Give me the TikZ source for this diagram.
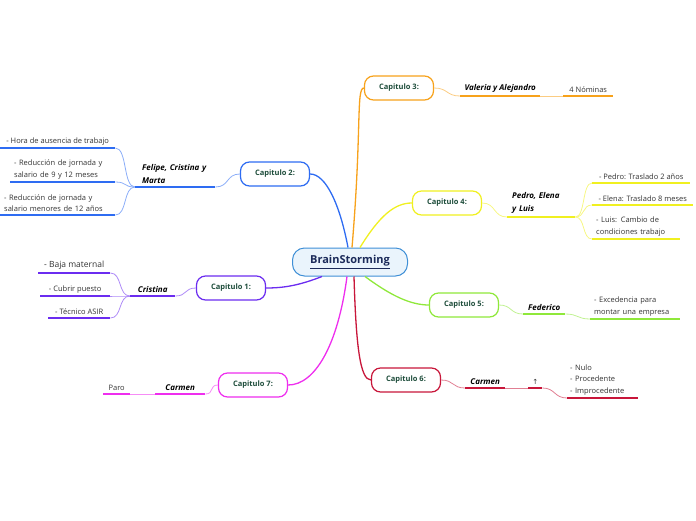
\documentclass[tikz,border=0pt]{standalone}
\usepackage{fontspec}
\setmainfont{Open Sans}
\newfontfamily\symfont{DejaVu Sans}
\usetikzlibrary{positioning,calc}
\definecolor{rootline}{HTML}{3F8FD6}
\definecolor{rootfill}{HTML}{EAF4FC}
\definecolor{roottext}{HTML}{1C2B5A}
\definecolor{chaptext}{HTML}{1E4D3B}
\definecolor{cblue}{HTML}{2E6CF2}
\definecolor{corange}{HTML}{F7A21B}
\definecolor{cyellow}{HTML}{F0F020}
\definecolor{cpurple}{HTML}{6B2CF0}
\definecolor{cgreen}{HTML}{8FE83A}
\definecolor{ccrimson}{HTML}{C8163A}
\definecolor{cmagenta}{HTML}{EE2EEE}

\begin{document}
\begin{tikzpicture}[x=1pt, y=-1pt,
    root/.style={draw=rootline, fill=rootfill, line width=1pt, rounded corners=12pt,
      minimum width=115pt, minimum height=28pt, text=roottext,
      font=\fontsize{11}{13}\selectfont\bfseries},
    chap/.style={draw=#1, fill=white, line width=1.2pt, rounded corners=9pt,
      minimum width=69pt, minimum height=24pt, text=chaptext,
      font=\fontsize{7.5}{9}\selectfont\bfseries},
    topic/.style={anchor=south west, inner xsep=0pt, inner ysep=3pt, align=left,
      font=\fontsize{8}{13}\selectfont\bfseries\itshape},
    leaf/.style={anchor=south west, inner xsep=0pt, inner ysep=3pt, align=left,
      text=black!80, font=\fontsize{7.5}{11.5}\selectfont},
    main/.style={draw=#1, line width=1.3pt},
    link/.style={draw=#1!55, line width=0.8pt},
    under/.style={draw=#1, line width=1.8pt}
  ]
  \useasboundingbox (0,0) rectangle (696,520);

  % centre and chapters
  \node[root] (root) at (350,262) {\underline{BrainStorming}};
  \node[chap=corange] (c3) at (399,88) {Capitulo 3:};
  \node[chap=cblue] (c2) at (275,174) {Capitulo 2:};
  \node[chap=cyellow] (c4) at (447,203) {Capitulo 4:};
  \node[chap=cpurple] (c1) at (231,288) {Capitulo 1:};
  \node[chap=cgreen] (c5) at (464,305) {Capitulo 5:};
  \node[chap=ccrimson] (c6) at (406,380) {Capitulo 6:};
  \node[chap=cmagenta] (c7) at (253,385) {Capitulo 7:};

  \draw[main=corange] ([xshift=2pt]root.north) .. controls (362,130) and (356,88) .. (c3.west);
  \draw[main=cblue] ([xshift=-2pt]root.north) .. controls (340,205) and (326,174) .. (c2.east);
  \draw[main=cyellow] ([xshift=10pt]root.north) .. controls (380,215) and (395,203) .. (c4.west);
  \draw[main=cgreen] ([xshift=15pt]root.south) .. controls (390,295) and (410,305) .. (c5.west);
  \draw[main=ccrimson] ([xshift=4pt]root.south) .. controls (356,345) and (360,380) .. (c6.west);
  \draw[main=cmagenta] ([xshift=-3pt]root.south) .. controls (338,345) and (315,385) .. (c7.east);
  \draw[main=cpurple] ([xshift=-28pt]root.south) .. controls (300,285) and (285,288) .. (c1.east);

  % capitulo 3
  \node[topic, minimum width=80pt] (valeria) at (460,96) {Valeria y Alejandro};
  \node[leaf, minimum width=50pt] (nominas) at (563,96) {4 Nóminas};
  \draw[link=corange] (c3.east) .. controls +(14,0) and +(-14,0) .. (valeria.south west);
  \draw[link=corange] (valeria.south east) -- (nominas.south west);
  \draw[under=corange] (valeria.south west) -- (valeria.south east);
  \draw[under=corange] (nominas.south west) -- (nominas.south east);

  % capitulo 2
  \node[topic, inner xsep=7pt, text width=66pt] (felipe) at (135,187) {Felipe, Cristina y\\Marta};
  \node[leaf, minimum width=115pt] (hora) at (0,148) {- Hora de ausencia de trabajo};
  \node[leaf, inner xsep=4pt, text width=97pt] (redA) at (10,182) {- Reducción de jornada y\\salario de 9 y 12 meses};
  \node[leaf, inner xsep=4pt, text width=107pt] (redB) at (0,215) {- Reducción de jornada y\\salario menores de 12 años};
  \draw[link=cblue] (c2.west) .. controls +(-14,0) and +(14,0) .. (felipe.south east);
  \foreach \n in {hora,redA,redB}
    \draw[link=cblue] (felipe.south west) .. controls +(-12,0) and +(12,0) .. (\n.south east);
  \foreach \n in {felipe,hora,redA,redB}
    \draw[under=cblue] (\n.south west) -- (\n.south east);

  % capitulo 4
  \node[topic, inner xsep=5pt, text width=58pt] (pedro) at (507,217) {Pedro, Elena\\y Luis};
  \node[leaf, minimum width=98pt] (pedroT) at (592,183) {- Pedro: Traslado 2 años};
  \node[leaf, minimum width=101pt] (elenaT) at (592,205) {- Elena: Traslado 8 meses};
  \node[leaf, inner xsep=4pt, text width=80pt] (luisC) at (592,239) {- Luis: Cambio de\\condiciones trabajo};
  \draw[link=cyellow] (c4.east) .. controls +(14,0) and +(-14,0) .. (pedro.south west);
  \foreach \n in {pedroT,elenaT,luisC}
    \draw[link=cyellow] (pedro.south east) .. controls +(10,0) and +(-10,0) .. (\n.south west);
  \foreach \n in {pedro,pedroT,elenaT,luisC}
    \draw[under=cyellow] (\n.south west) -- (\n.south east);

  % capitulo 1
  \node[topic, minimum width=45pt] (cristina) at (130,296) {Cristina};
  \node[leaf, minimum width=72pt, font=\fontsize{8.5}{10}\selectfont] (baja) at (38,273) {- Baja maternal};
  \node[leaf, minimum width=70pt] (cubrir) at (40,296) {- Cubrir puesto};
  \node[leaf, minimum width=62pt] (asir) at (48,318) {- Técnico ASIR};
  \draw[link=cpurple] (c1.west) .. controls +(-12,0) and +(12,0) .. (cristina.south east);
  \foreach \n in {baja,cubrir,asir}
    \draw[link=cpurple] (cristina.south west) .. controls +(-12,0) and +(12,0) .. (\n.south east);
  \foreach \n in {cristina,baja,cubrir,asir}
    \draw[under=cpurple] (\n.south west) -- (\n.south east);

  % capitulo 5
  \node[topic, minimum width=42pt] (federico) at (523,314) {Federico};
  \node[leaf, inner xsep=4pt, text width=82pt] (exced) at (590,319) {- Excedencia para\\montar una empresa};
  \draw[link=cgreen] (c5.east) .. controls +(13,0) and +(-13,0) .. (federico.south west);
  \draw[link=cgreen] (federico.south east) .. controls +(13,0) and +(-13,0) .. (exced.south west);
  \draw[under=cgreen] (federico.south west) -- (federico.south east);
  \draw[under=cgreen] (exced.south west) -- (exced.south east);

  % capitulo 6
  \node[topic, minimum width=40pt] (carmenA) at (465,388) {Carmen};
  \node[leaf, minimum width=14pt, font=\symfont\fontsize{7}{9}\selectfont] (flecha) at (528,388) {↑};
  \node[leaf, inner xsep=3pt, text width=65pt] (nulo) at (567,398) {- Nulo\\- Procedente\\- Improcedente};
  \draw[link=ccrimson] (c6.east) .. controls +(13,0) and +(-13,0) .. (carmenA.south west);
  \draw[link=ccrimson] (carmenA.south east) -- (flecha.south west);
  \draw[link=ccrimson] (flecha.south east) .. controls +(13,0) and +(-13,0) .. (nulo.south west);
  \foreach \n in {carmenA,flecha,nulo}
    \draw[under=ccrimson] (\n.south west) -- (\n.south east);

  % capitulo 7
  \node[topic, minimum width=50pt] (carmenB) at (155,394) {Carmen};
  \node[leaf, minimum width=27pt] (paro) at (103,394) {Paro};
  \draw[link=cmagenta] (c7.west) .. controls +(-9,0) and +(9,0) .. (carmenB.south east);
  \draw[link=cmagenta] (carmenB.south west) -- (paro.south east);
  \draw[under=cmagenta] (carmenB.south west) -- (carmenB.south east);
  \draw[under=cmagenta] (paro.south west) -- (paro.south east);
\end{tikzpicture}
\end{document}
